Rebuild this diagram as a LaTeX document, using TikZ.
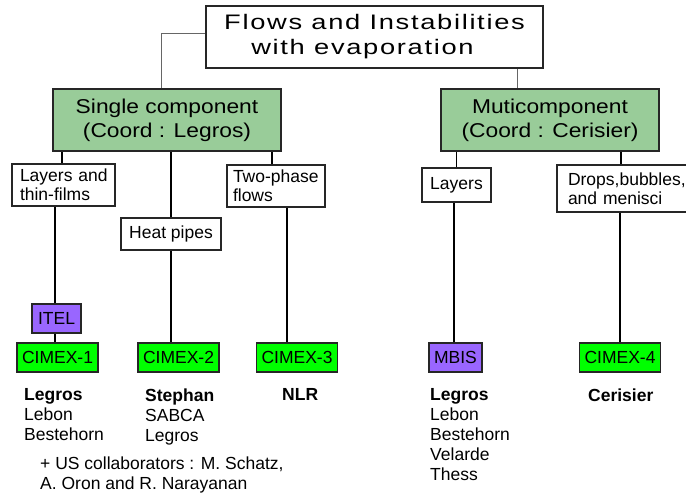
\documentclass[tikz,border=0pt]{standalone}
\usepackage{fontspec}
\setmainfont{Liberation Sans}
\definecolor{cgreen}{RGB}{153,204,153}
\definecolor{clime}{RGB}{0,255,0}
\definecolor{cpurple}{RGB}{153,102,255}
\newcommand\mytitlefont{\fontsize{21}{25}\selectfont\addfontfeature{FakeStretch=1.3,LetterSpace=8}}
\newcommand\mygreenfont{\fontsize{20}{24}\selectfont\addfontfeature{FakeStretch=1.14}}
\begin{document}
\begin{tikzpicture}[x=1pt,y=-1pt,
  box/.style={draw=black!85, line width=1.5pt, inner sep=0pt, font=\fontsize{17.5}{19}\selectfont},
  grn/.style={box, fill=cgreen, font=\mygreenfont, align=center},
  lab/.style={box, fill=white, align=left},
  tag/.style={box, minimum height=29pt, align=center},
  cimex/.style={tag, fill=clime, minimum width=81pt},
  conn/.style={line width=1.3pt, black},
  topconn/.style={line width=1pt, black!60},
  names/.style={inner sep=0pt, anchor=north west, align=left, font=\fontsize{17.5}{20}\selectfont}
]
\useasboundingbox (0,0) rectangle (686,493);

\node[box, fill=white, minimum width=337pt, minimum height=62pt, align=center, font=\mytitlefont] (title) at (374.5,37) {Flows and Instabilities\\with evaporation\hspace*{24pt}};

\node[grn, minimum width=228pt, minimum height=62pt] (single) at (167,120) {Single component\\(Coord : Legros)};
\node[grn, minimum width=218pt, minimum height=62pt] (multi) at (550,120) {Muticomponent\\(Coord : Cerisier)};

\node[lab, minimum height=42pt, text width=87pt, inner xsep=8pt] (lay1) at (63.5,185) {\mbox{Layers and}\\\mbox{thin-films}};
\node[lab, align=center, minimum width=100pt, minimum height=32pt] (heat) at (171,234) {Heat pipes};
\node[lab, minimum height=42pt, text width=86pt, inner xsep=6pt] (two) at (276,186) {\mbox{Two-phase}\\\mbox{flows}};
\node[lab, align=center, minimum width=69pt, minimum height=34pt] (lay2) at (456.5,185) {Layers};
\node[lab, minimum height=47pt, text width=121pt, inner xsep=11pt] (drops) at (628.5,188.5) {\mbox{Drops,bubbles,}\\\mbox{and menisci}};

\node[tag, fill=cpurple, minimum width=49pt] (itel) at (56.5,318.5) {ITEL};
\node[cimex] (c1) at (57.5,357.5) {CIMEX-1};
\node[cimex] (c2) at (178.5,357.5) {CIMEX-2};
\node[cimex] (c3) at (297,357.5) {CIMEX-3};
\node[tag, fill=cpurple, minimum width=53pt] (mbis) at (455.5,357.5) {MBIS};
\node[cimex] (c4) at (620,357.5) {CIMEX-4};

\node[names] (n1) at (24,388.5) {\textbf{Legros}\\Lebon\\Bestehorn};
\node[names] (n2) at (145,388.5) {\textbf{Stephan}\\SABCA\\Legros};
\node[names] (n3) at (282,388.5) {\textbf{NLR}};
\node[names] (n4) at (430,388.5) {\textbf{Legros}\\Lebon\\Bestehorn\\Velarde\\Thess};
\node[names] (n5) at (588,388.5) {\textbf{Cerisier}};
\node[names] (n6) at (40,457) {+ US collaborators : M. Schatz,\\A. Oron and R. Narayanan};

\draw[topconn] ([yshift=4pt]title.west) -| ([xshift=-6pt]single.north);
\draw[topconn] ([xshift=142.5pt]title.south) -- ([xshift=142.5pt]title.south |- multi.north);

\draw[conn] ([xshift=-1.5pt]lay1.north) -- ([xshift=-1.5pt]lay1.north |- single.south);
\draw[conn] (heat.north) -- (heat.north |- single.south);
\draw[conn] ([xshift=-4pt]two.north) -- ([xshift=-4pt]two.north |- single.south);
\draw[conn] ([xshift=-1.5pt]itel.north) -- ([xshift=-1.5pt]itel.north |- lay1.south);
\draw[conn] ([xshift=-1.5pt]itel.south) -- ([xshift=-1.5pt]itel.south |- c1.north);
\draw[conn] (heat.south) -- (heat.south |- c2.north);
\draw[conn] ([xshift=-10pt]c3.north) -- ([xshift=-10pt]c3.north |- two.south);
\draw[conn] (lay2.north) -- (lay2.north |- multi.south);
\draw[conn] ([xshift=-7.5pt]drops.north) -- ([xshift=-7.5pt]drops.north |- multi.south);
\draw[conn] ([xshift=-1.5pt]mbis.north) -- ([xshift=-1.5pt]mbis.north |- lay2.south);
\draw[conn] (c4.north) -- (c4.north |- drops.south);
\end{tikzpicture}
\end{document}
